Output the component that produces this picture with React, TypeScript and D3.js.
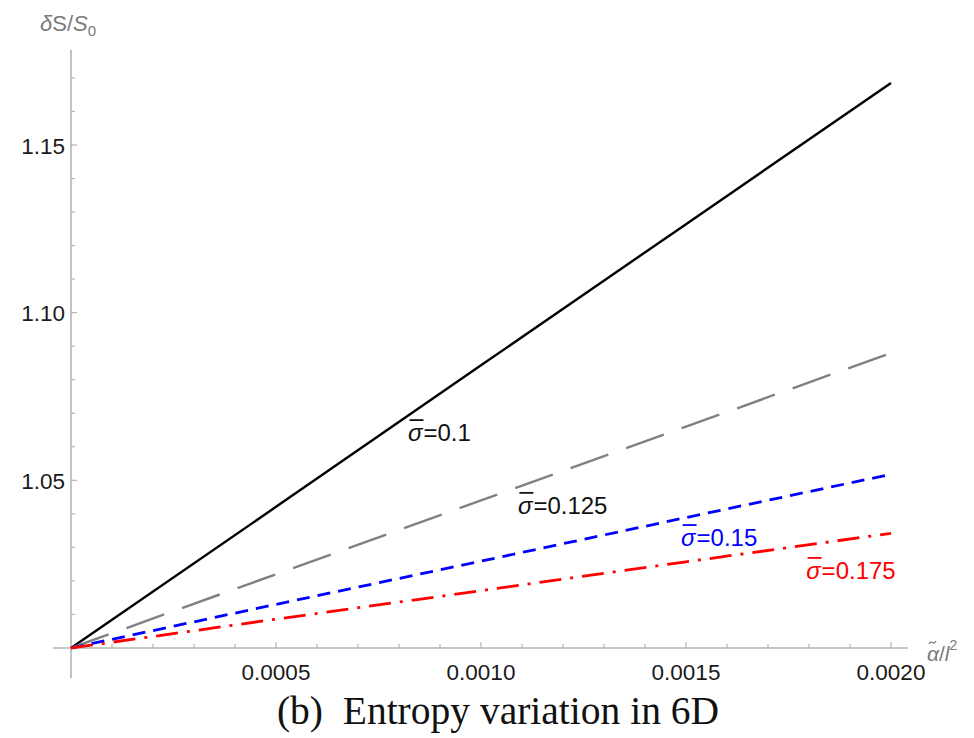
import React, { useEffect, useRef } from 'react';
import * as d3 from 'd3';

// alpha~/l^2 values (x) and deltaS/S0 for each sigma bar
const alphaValues = [0, 0.0005, 0.001, 0.0015, 0.002];
const sigma010 = [1, 1.0421, 1.0843, 1.1264, 1.1685];
const sigma0125 = [1, 1.022, 1.044, 1.066, 1.088];
const sigma015 = [1, 1.013, 1.0259, 1.0389, 1.0518];
const sigma0175 = [1, 1.0086, 1.0171, 1.0257, 1.0342];
const sigmaNames = ['0.1', '0.125', '0.15', '0.175'];
const xTickValues = [0.0005, 0.001, 0.0015, 0.002];
const xTickLabels = ['0.0005', '0.0010', '0.0015', '0.0020'];
const yTickValues = [1.05, 1.1, 1.15];
const yTickLabels = ['1.05', '1.10', '1.15'];

const W = 974;
const H = 738;
const sans = '"Liberation Sans", Arial, Helvetica, sans-serif';

export default function App() {
  const ref = useRef<SVGSVGElement>(null);

  useEffect(() => {
    const svg = d3.select(ref.current);
    svg.selectAll('*').remove();

    const x = d3.scaleLinear().domain([0, 0.002]).range([71, 891]);
    const y = d3.scaleLinear().domain([1, 1.15]).range([648, 145]);

    // line styles
    const styles = [
      { color: '#000000', dash: null, width: 2.4, label: '#111111' },
      { color: '#808080', dash: '40,19', width: 2.4, label: '#111111' },
      { color: '#0000ff', dash: '13,8', width: 2.8, label: '#0000ff' },
      { color: '#ff0000', dash: '22,9,3,9', width: 2.8, label: '#ff0000' },
    ];
    // label anchors in data coordinates (left, baseline)
    const labelAt = [
      [0.000822, 1.0617],
      [0.00109, 1.04],
      [0.001488, 1.0304],
      [0.001793, 1.0206],
    ];
    const series = [sigma010, sigma0125, sigma015, sigma0175];

    // axes
    const axisColor = '#b4b4b4';
    svg.append('line')
      .attr('x1', 53).attr('x2', 908)
      .attr('y1', y(1)).attr('y2', y(1))
      .attr('stroke', axisColor).attr('stroke-width', 1.6);
    svg.append('line')
      .attr('x1', x(0)).attr('x2', x(0))
      .attr('y1', 50).attr('y2', 678)
      .attr('stroke', axisColor).attr('stroke-width', 1.6);

    // x ticks (minor every 0.0001)
    const xMinor = d3.range(1, 21).map(i => i * 0.0001);
    svg.append('g').selectAll('line')
      .data(xMinor)
      .enter()
      .append('line')
      .attr('x1', d => x(d)).attr('x2', d => x(d))
      .attr('y1', y(1))
      .attr('y2', (d, i) => y(1) - ((i + 1) % 5 === 0 ? 6 : 4))
      .attr('stroke', axisColor).attr('stroke-width', 1.2);

    const yMinor = d3.range(1, 18).map(i => 1 + i * 0.01);
    svg.append('g').selectAll('line')
      .data(yMinor)
      .enter()
      .append('line')
      .attr('x1', x(0))
      .attr('x2', (d, i) => x(0) + ((i + 1) % 5 === 0 ? 6 : 4))
      .attr('y1', d => y(d)).attr('y2', d => y(d))
      .attr('stroke', axisColor).attr('stroke-width', 1.2);

    svg.append('g').selectAll('text')
      .data(xTickValues)
      .enter()
      .append('text')
      .attr('x', d => x(d))
      .attr('y', 680)
      .attr('text-anchor', 'middle')
      .attr('font-family', sans)
      .attr('font-size', 22.5)
      .attr('fill', '#1a1a1a')
      .text((d, i) => xTickLabels[i]);

    svg.append('g').selectAll('text')
      .data(yTickValues)
      .enter()
      .append('text')
      .attr('x', 65)
      .attr('y', d => y(d) + 8.5)
      .attr('text-anchor', 'end')
      .attr('font-family', sans)
      .attr('font-size', 22.5)
      .attr('fill', '#1a1a1a')
      .text((d, i) => yTickLabels[i]);

    // curves
    const line = d3.line<number>()
      .x((d, i) => x(alphaValues[i]))
      .y(d => y(d));

    series.forEach((s, k) => {
      const p = svg.append('path')
        .attr('d', line(s))
        .attr('fill', 'none')
        .attr('stroke', styles[k].color)
        .attr('stroke-width', styles[k].width);
      if (styles[k].dash) p.attr('stroke-dasharray', styles[k].dash);
    });

    // sigma labels
    series.forEach((s, k) => {
      const lx = x(labelAt[k][0]);
      const ly = y(labelAt[k][1]);
      const g = svg.append('g').attr('fill', styles[k].label)
        .attr('font-family', sans).attr('font-size', 24);
      const sig = g.append('text')
        .attr('x', lx).attr('y', ly)
        .attr('font-style', 'italic')
        .text('σ');
      const sw = (sig.node() as SVGTextElement).getComputedTextLength();
      g.append('line')
        .attr('x1', lx + 1.5).attr('x2', lx + sw + 1)
        .attr('y1', ly - 21).attr('y2', ly - 21)
        .attr('stroke', styles[k].label).attr('stroke-width', 1.8);
      g.append('text')
        .attr('x', lx + sw + 1).attr('y', ly)
        .text('=' + sigmaNames[k]);
    });

    // axis labels
    const yl = svg.append('text')
      .attr('x', 40).attr('y', 31)
      .attr('font-family', sans).attr('font-size', 22)
      .attr('fill', '#7a7a7a');
    yl.append('tspan').attr('font-style', 'italic').text('δ');
    yl.append('tspan').text('S/');
    yl.append('tspan').attr('font-style', 'italic').text('S');
    yl.append('tspan').attr('font-size', 15).attr('dy', 5).text('0');

    const xl = svg.append('text')
      .attr('x', 927).attr('y', 661)
      .attr('font-family', sans).attr('font-size', 21)
      .attr('fill', '#7a7a7a');
    xl.append('tspan').attr('font-style', 'italic').text('α');
    xl.append('tspan').text('/');
    xl.append('tspan').attr('font-style', 'italic').text('l');
    xl.append('tspan').attr('font-size', 14).attr('dy', -11).text('2');
    // tilde over alpha
    svg.append('path')
      .attr('d', 'M929,644 q1.6,-3 3.4,-1.4 t3.6,-1.6')
      .attr('fill', 'none')
      .attr('stroke', '#7a7a7a')
      .attr('stroke-width', 1.3);

    // caption
    svg.append('text')
      .attr('x', 498).attr('y', 724)
      .attr('text-anchor', 'middle')
      .attr('font-family', '"Liberation Serif", "Times New Roman", serif')
      .attr('font-size', 39.5)
      .attr('fill', '#111111')
      .attr('xml:space', 'preserve')
      .text('(b)  Entropy variation in 6D');
  }, []);

  return (
    <svg
      ref={ref}
      width={W}
      height={H}
      style={{ position: 'absolute', left: 0, top: 0, background: '#ffffff' }}
    />
  );
}
